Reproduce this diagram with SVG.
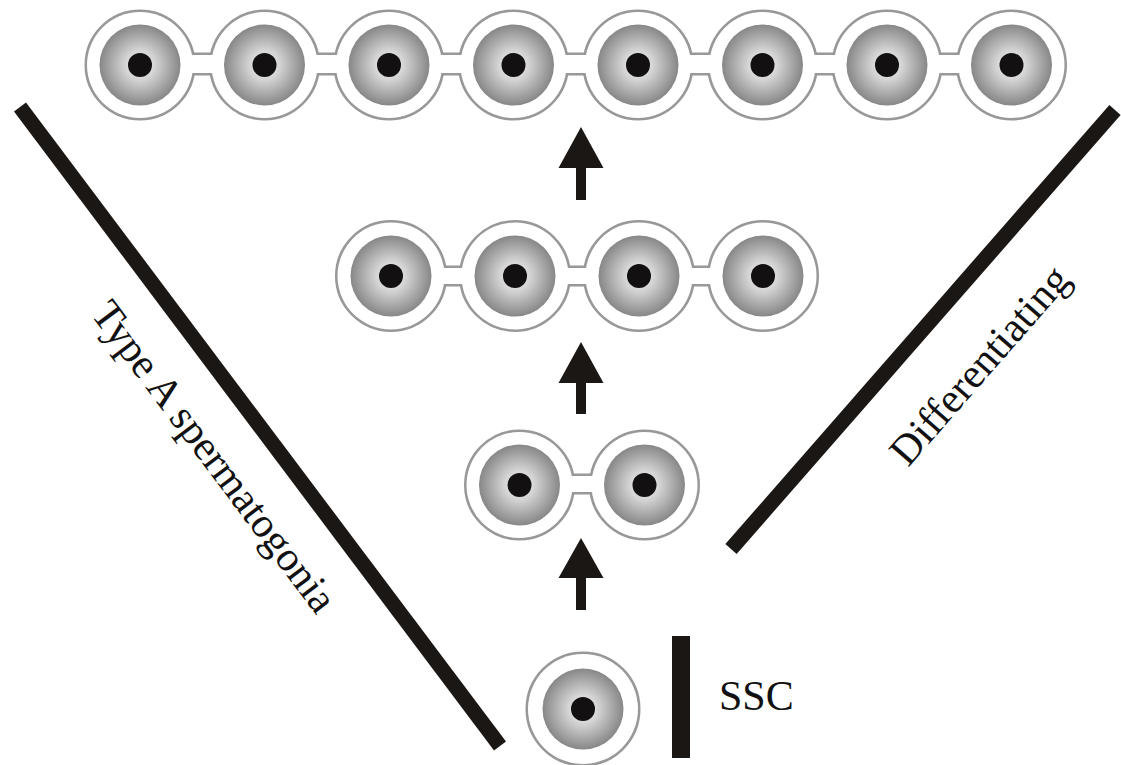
<svg xmlns="http://www.w3.org/2000/svg" xmlns:xlink="http://www.w3.org/1999/xlink" width="1121" height="765" viewBox="0 0 1121 765">
  <style>
    /* outline is drawn wide and half covered by the white body, leaving a ~2.5px rim */
    .rim { fill: none; stroke: #989898; stroke-width: 5; }
    .body { fill: #ffffff; stroke: none; }
    .bar { stroke: #1b1714; stroke-width: 15; stroke-linecap: butt; }
    .ink { fill: #1b1714; }
    .label { font-family: "Liberation Serif", "Times New Roman", serif; font-size: 42px; fill: #111111; }
  </style>
  <defs>
    <radialGradient id="cytoplasm" cx="0.5" cy="0.5" r="0.5">
      <stop offset="0" stop-color="#eeeeee"/>
      <stop offset="0.35" stop-color="#d6d6d6"/>
      <stop offset="1" stop-color="#878787"/>
    </radialGradient>
    <!-- cell interior: shaded cytoplasm with dark nucleus -->
    <g id="cell">
      <circle r="40.5" fill="url(#cytoplasm)"/>
      <circle r="12" fill="#121010"/>
    </g>
  </defs>

  <!-- lineage bars -->
  <g id="bars">
    <line class="bar" x1="20" y1="107" x2="500" y2="746"/>
    <line class="bar" x1="731" y1="549" x2="1115" y2="110"/>
    <rect class="ink" x="672" y="636" width="18" height="122"/>
  </g>

  <!-- 8-cell cyst -->
  <g id="cyst8">
    <g class="rim">
      <circle cx="140" cy="65" r="53"/><circle cx="264.5" cy="65" r="53"/>
      <circle cx="389" cy="65" r="53"/><circle cx="513.5" cy="65" r="53"/>
      <circle cx="638" cy="65" r="53"/><circle cx="762.5" cy="65" r="53"/>
      <circle cx="887" cy="65" r="53"/><circle cx="1011.5" cy="65" r="53"/>
      <rect x="140" y="55" width="871.5" height="18"/>
    </g>
    <g class="body">
      <circle cx="140" cy="65" r="53"/><circle cx="264.5" cy="65" r="53"/>
      <circle cx="389" cy="65" r="53"/><circle cx="513.5" cy="65" r="53"/>
      <circle cx="638" cy="65" r="53"/><circle cx="762.5" cy="65" r="53"/>
      <circle cx="887" cy="65" r="53"/><circle cx="1011.5" cy="65" r="53"/>
      <rect x="140" y="55" width="871.5" height="18"/>
    </g>
    <use xlink:href="#cell" x="140" y="65"/><use xlink:href="#cell" x="264.5" y="65"/>
    <use xlink:href="#cell" x="389" y="65"/><use xlink:href="#cell" x="513.5" y="65"/>
    <use xlink:href="#cell" x="638" y="65"/><use xlink:href="#cell" x="762.5" y="65"/>
    <use xlink:href="#cell" x="887" y="65"/><use xlink:href="#cell" x="1011.5" y="65"/>
  </g>

  <!-- 4-cell cyst -->
  <g id="cyst4">
    <g class="rim">
      <circle cx="391" cy="276" r="53.5"/><circle cx="515" cy="276" r="53.5"/>
      <circle cx="639" cy="276" r="53.5"/><circle cx="763" cy="276" r="53.5"/>
      <rect x="391" y="268" width="372" height="16"/>
    </g>
    <g class="body">
      <circle cx="391" cy="276" r="53.5"/><circle cx="515" cy="276" r="53.5"/>
      <circle cx="639" cy="276" r="53.5"/><circle cx="763" cy="276" r="53.5"/>
      <rect x="391" y="268" width="372" height="16"/>
    </g>
    <use xlink:href="#cell" x="391" y="276"/><use xlink:href="#cell" x="515" y="276"/>
    <use xlink:href="#cell" x="639" y="276"/><use xlink:href="#cell" x="763" y="276"/>
  </g>

  <!-- 2-cell cyst -->
  <g id="cyst2">
    <g class="rim">
      <circle cx="519.5" cy="485" r="53"/><circle cx="644.5" cy="485" r="53"/>
      <rect x="519.5" y="476" width="125" height="16"/>
    </g>
    <g class="body">
      <circle cx="519.5" cy="485" r="53"/><circle cx="644.5" cy="485" r="53"/>
      <rect x="519.5" y="476" width="125" height="16"/>
    </g>
    <use xlink:href="#cell" x="519.5" y="485"/><use xlink:href="#cell" x="644.5" y="485"/>
  </g>

  <!-- single stem cell -->
  <g id="ssc-cell">
    <circle class="rim" cx="583" cy="709" r="55"/>
    <circle class="body" cx="583" cy="709" r="55"/>
    <use xlink:href="#cell" x="583" y="709"/>
  </g>

  <!-- division arrows -->
  <g id="connectors" class="ink">
    <path d="M581,127 L603.5,168 L586,168 L586,200 L576,200 L576,168 L558.5,168 Z"/>
    <path d="M581,342 L603.5,383 L586,383 L586,414 L576,414 L576,383 L558.5,383 Z"/>
    <path d="M581,538 L603.5,578 L586,578 L586,610 L576,610 L576,578 L558.5,578 Z"/>
  </g>

  <!-- labels -->
  <g id="labels">
    <text class="label" transform="translate(90,314) rotate(53.09)" font-size="42.5">Type A spermatogonia</text>
    <text class="label" transform="translate(908,468) rotate(-48.82)">Differentiating</text>
    <text class="label" x="719" y="710">SSC</text>
  </g>
</svg>
